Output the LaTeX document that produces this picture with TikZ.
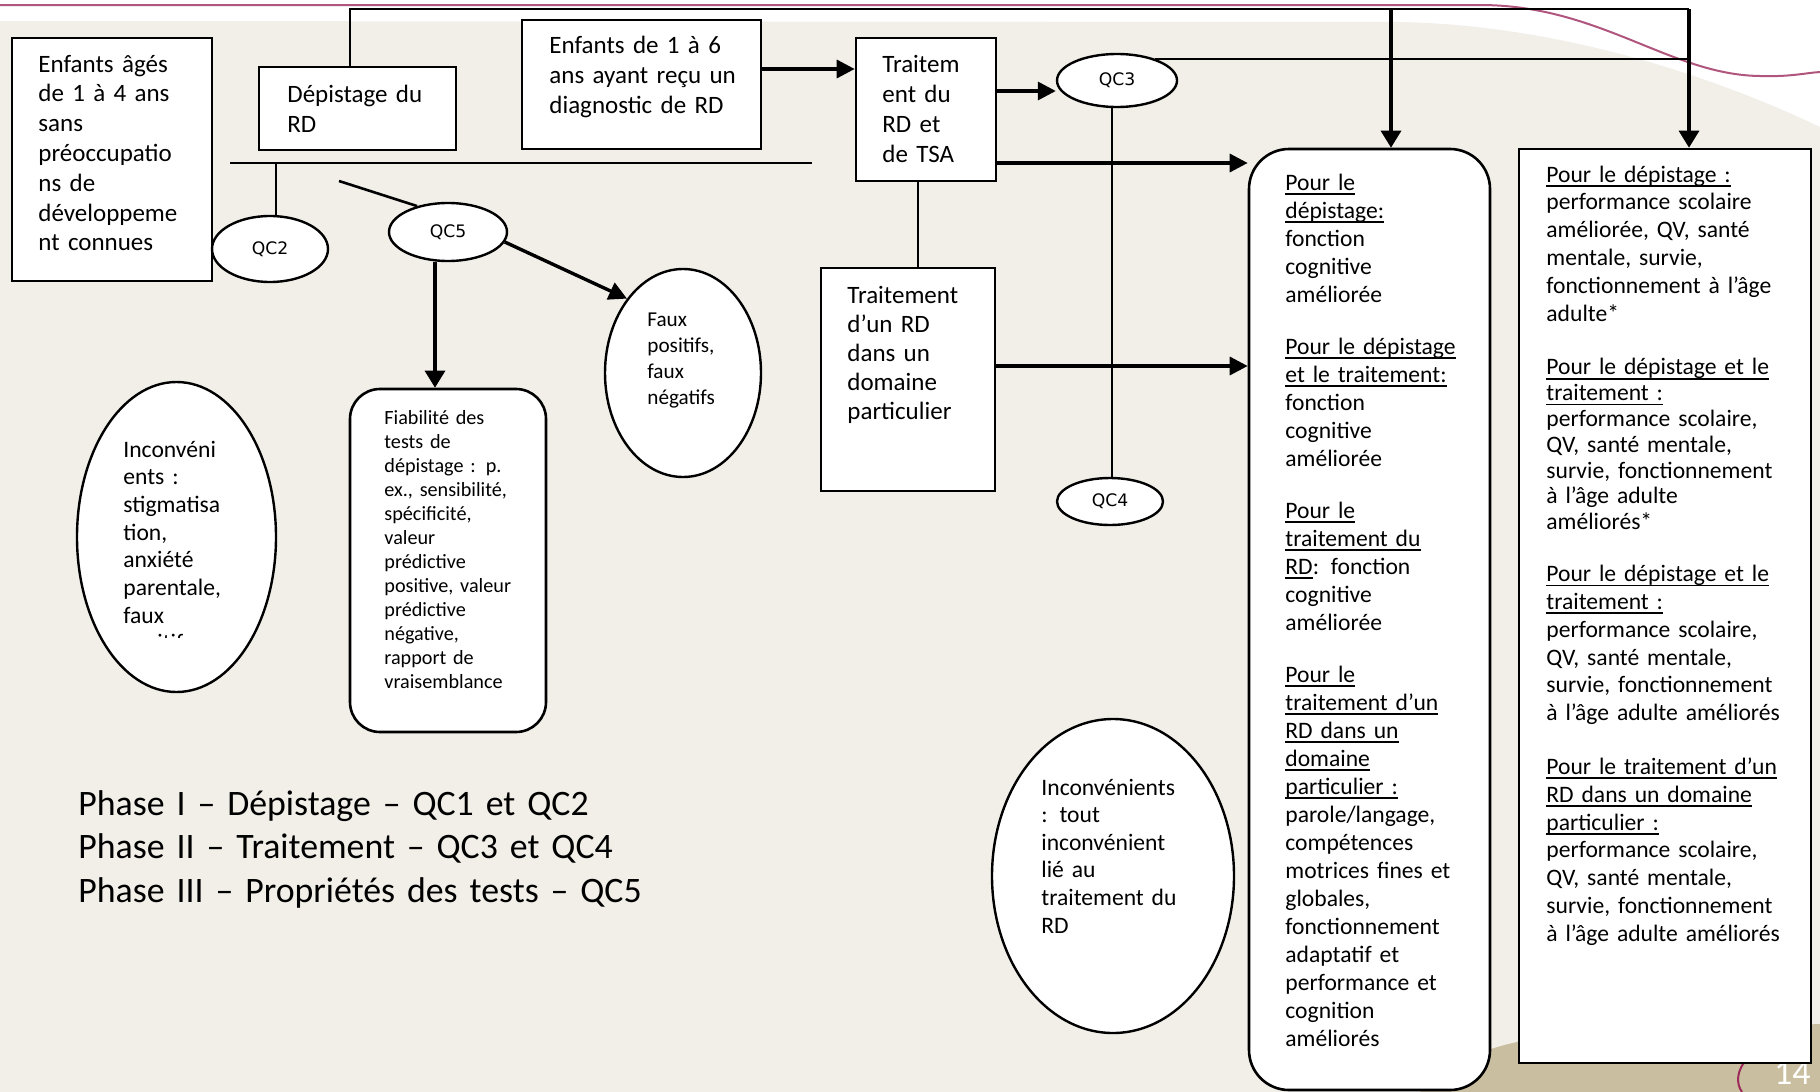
\documentclass[tikz,border=0pt]{standalone}
\usepackage{fontspec}
\setmainfont{Carlito}
\newfontfamily\dejavu{DejaVu Sans}
\newsavebox\ulbox
\newcommand\uln[1]{\leavevmode\sbox\ulbox{#1}\rlap{\rule[-2.4pt]{\wd\ulbox}{0.8pt}}\usebox\ulbox}
\usetikzlibrary{shapes.geometric,arrows.meta,calc}
\definecolor{bgbeige}{HTML}{F2EFE9}
\definecolor{bgtan}{HTML}{C9BEA0}
\definecolor{pinkline}{HTML}{B0557D}
\definecolor{pinkdark}{HTML}{9E2A5A}
\tikzset{
  boxst/.style={draw=black, line width=1.3pt, fill=white, rectangle, inner sep=0pt},
  rboxst/.style={boxst, rounded corners=20pt},
  ellst/.style={draw=black, line width=1.2pt, fill=white, ellipse, inner sep=0pt},
  txt/.style={anchor=base west, inner sep=0pt, align=left, text width=#1},
  txt/.default=160pt,
  fbig/.style={font=\fontsize{12.5}{14.9}\selectfont},
  fmid/.style={font=\fontsize{11.8}{14}\selectfont},
  qcf/.style={font=\dejavu\fontsize{8.6}{10}\selectfont},
  conn/.style={line width=1.3pt},
  thinconn/.style={line width=1pt},
  arr/.style={line width=1.7pt, -{Triangle[length=9pt,width=9pt]}},
  varr/.style={line width=1.6pt, -{Triangle[length=8.5pt,width=10pt]}}
}
\begin{document}
\begin{tikzpicture}[x=0.5pt,y=-0.5pt]
\useasboundingbox (0,0) rectangle (1820,1092);
% background
\fill[white] (0,0) rectangle (1820,1092);
\fill[bgbeige] (0,21) -- (1400,22) .. controls (1550,25) and (1700,70) .. (1820,127) -- (1820,1092) -- (0,1092) -- cycle;
\fill[bgtan] (1420,1092) .. controls (1460,1050) and (1520,1036) .. (1600,1032) -- (1820,1024) -- (1820,1092) -- cycle;
\draw[pinkline, line width=1pt] (0,5) -- (1480,5) .. controls (1600,5) and (1670,75) .. (1760,76) .. controls (1790,77) and (1805,73) .. (1820,72);
\draw[pinkdark, line width=1pt] (1748,1058) .. controls (1736,1070) and (1736,1084) .. (1742,1092);
\node[anchor=base east, inner sep=0pt, text=white, font=\fontsize{18}{20}\selectfont] (pg) at (1811,1084) {14};

% boxes
\node[boxst, minimum width=100pt, minimum height=121.5pt] (A) at (112,159.5) {};
\node[txt, fbig] (At) at (38,72) {Enfants âgés\\de 1 à 4 ans\\sans\\préoccupatio\\ns de\\développeme\\nt connues};

\node[boxst, minimum width=98.5pt, minimum height=41.5pt] (B) at (357.5,108.5) {};
\node[txt, font=\fontsize{12.5}{15}\selectfont] (Bt) at (287,102) {Dépistage du\\RD};

\node[boxst, minimum width=119.5pt, minimum height=64.5pt] (C) at (641.5,84.5) {};
\node[txt, font=\fontsize{12.5}{14.75}\selectfont] (Ct) at (549,54) {Enfants de 1 à 6\\ans ayant reçu un\\diagnostic de RD};

\node[boxst, minimum width=70pt, minimum height=71.5pt] (D) at (926,109.5) {};
\node[txt, font=\fontsize{12.5}{15}\selectfont] (Dt) at (882,72) {Traitem\\ent du\\RD et\\de TSA};

\node[boxst, minimum width=87pt, minimum height=111.5pt] (F) at (908,379.5) {};
\node[txt, font=\fontsize{12.5}{14.6}\selectfont] (Ft) at (847,303) {Traitement\\d’un RD\\dans un\\domaine\\particulier};

\node[boxst, rounded corners=15pt, minimum width=98pt, minimum height=171.5pt] (Fiab) at (448,560.5) {};
\node[txt, font=\fontsize{10.1}{12}\selectfont] (Fiabt) at (384,424) {Fiabilité des\\tests de\\dépistage : p.\\ex., sensibilité,\\spécificité,\\valeur\\prédictive\\positive, valeur\\prédictive\\négative,\\rapport de\\vraisemblance};

\node[rboxst, minimum width=120.5pt, minimum height=470.5pt] (E) at (1369.5,619.5) {};
\node[txt, fmid] (Et) at (1285,190) {\uln{Pour le}\\
\uln{dépistage:}\\
fonction\\
cognitive\\
améliorée\\[12pt]
\uln{Pour le dépistage}\\
\uln{et le traitement:}\\
fonction\\
cognitive\\
améliorée\\[12pt]
\uln{Pour le}\\
\uln{traitement du}\\
\uln{RD}: fonction\\
cognitive\\
améliorée\\[12pt]
\uln{Pour le}\\
\uln{traitement d’un}\\
\uln{RD dans un}\\
\uln{domaine}\\
\uln{particulier :}\\
parole/langage,\\
compétences\\
motrices fines et\\
globales,\\
fonctionnement\\
adaptatif et\\
performance et\\
cognition\\
améliorés};

\node[boxst, minimum width=146pt, minimum height=457pt] (G) at (1665,606) {};
\node[txt, font=\fontsize{11.8}{13.95}\selectfont] (Gt) at (1546,182) {\uln{Pour le dépistage :}\\
performance scolaire\\
améliorée, QV, santé\\
mentale, survie,\\
fonctionnement à l’âge\\
adulte*\\[12.7pt]
\uln{Pour le dépistage et le}\\[-1.05pt]
\uln{traitement :}\\[-1.05pt]
performance scolaire,\\[-1.05pt]
QV, santé mentale,\\[-1.05pt]
survie, fonctionnement\\[-1.05pt]
à l’âge adulte\\[-1.05pt]
améliorés*\\[11.9pt]
\uln{Pour le dépistage et le}\\
\uln{traitement :}\\
performance scolaire,\\
QV, santé mentale,\\
survie, fonctionnement\\
à l’âge adulte améliorés\\[12.75pt]
\uln{Pour le traitement d’un}\\
\uln{RD dans un domaine}\\
\uln{particulier :}\\
performance scolaire,\\
QV, santé mentale,\\
survie, fonctionnement\\
à l’âge adulte améliorés};

% ellipses
\node[ellst, qcf, minimum width=58pt, minimum height=33pt] (QC2) at (270,249) {QC2};
\node[ellst, qcf, minimum width=59pt, minimum height=29pt] (QC5) at (448,232) {QC5};
\node[ellst, qcf, minimum width=60pt, minimum height=26.5pt] (QC3) at (1117,80.5) {QC3};
\node[ellst, qcf, minimum width=53pt, minimum height=23.5pt] (QC4) at (1110,501.5) {QC4};

\node[ellst, minimum width=78pt, minimum height=104pt] (Faux) at (683,373) {};
\node[txt, font=\fontsize{10.6}{13}\selectfont] (Fauxt) at (647,326) {Faux\\positifs,\\faux\\négatifs};

\node[ellst, minimum width=99.5pt, minimum height=155pt] (Inc1) at (176.5,537) {};
\begin{scope}
\clip (0,0) rectangle (1820,637);
\node[txt, font=\fontsize{11.8}{13.85}\selectfont] (Inc1t) at (123,457) {Inconvéni\\ents :\\stigmatisa\\tion,\\anxiété\\parentale,\\faux\\positifs};
\end{scope}

\node[ellst, minimum width=121pt, minimum height=157pt] (Inc2) at (1113,876) {};
\node[txt, font=\fontsize{11.8}{13.8}\selectfont] (Inc2t) at (1041,795) {Inconvénients\\: tout\\inconvénient\\lié au\\traitement du\\RD};

% phase legend
\node[txt=320pt, font=\fontsize{17.9}{21.75}\selectfont] (Ph) at (78,815) {Phase I – Dépistage – QC1 et QC2\\Phase II – Traitement – QC3 et QC4\\Phase III – Propriétés des tests – QC5};

% connectors
\coordinate (tl) at (350,9);
\coordinate (tm) at (1391,9);
\coordinate (tr) at (1689,9);
\draw[conn] (tl |- B.north) -- (tl) -- (tr);
\draw[varr] (tm) -- (tm |- E.north);
\draw[varr] (tr) -- (tr |- G.north);
\draw[thinconn] (QC3.30) -- (QC3.30 -| tr);

\coordinate (cdS) at ([yshift=7.75pt]C.east);
\draw[arr] (cdS) -- (cdS -| D.west);
\coordinate (d3) at ([yshift=9.25pt]D.east);
\draw[arr] (d3) -- (d3 -| QC3.west);
\coordinate (de) at ([yshift=-26.75pt]D.east);
\draw[arr] (de) -- (de -| E.west);
\coordinate (df) at ([xshift=-4pt]D.south);
\draw[conn] (df) -- (df |- F.north);
\coordinate (fe) at ([yshift=6.75pt]F.east);
\draw[arr] (fe) -- (fe -| E.west);
\coordinate (v34) at (1112,0);
\draw[conn] (QC3.south -| v34) -- (QC4.north -| v34);

\coordinate (h1) at (230,163);
\coordinate (h2) at (812,163);
\draw[conn] (h1) -- (h2);
\coordinate (hq2) at (276,163);
\draw[conn] (hq2) -- (hq2 |- QC2.north);
\coordinate (dg) at (339,181);
\draw[conn] (dg) -- (QC5.140);
\coordinate (q5x) at (435,0);
\draw[varr] (QC5.south -| q5x) -- (q5x |- Fiab.north);
\draw[arr] (QC5.-10) -- (Faux.north west);
\end{tikzpicture}
\end{document}
